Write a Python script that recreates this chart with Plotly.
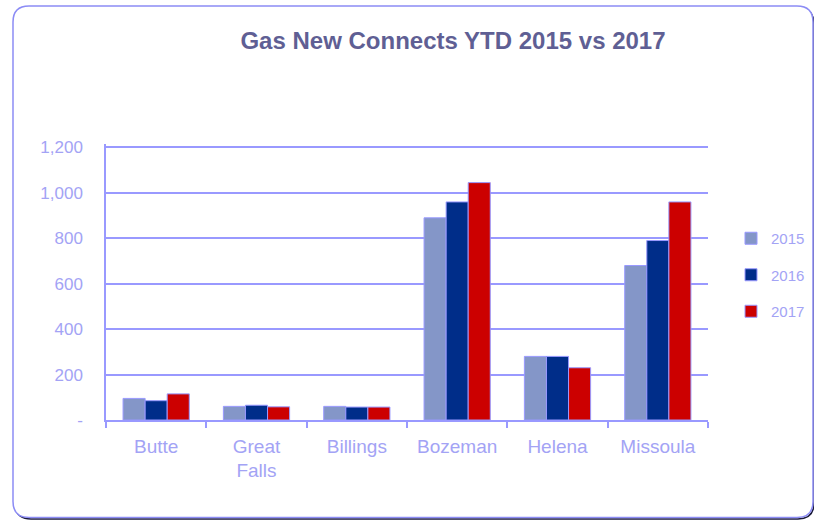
import plotly.graph_objects as go

categories = ["Butte", "Great<br>Falls", "Billings", "Bozeman", "Helena", "Missoula"]
series_names = ["2015", "2016", "2017"]
values_2015 = [95, 60, 60, 890, 280, 680]
values_2016 = [85, 65, 57, 960, 280, 790]
values_2017 = [115, 58, 57, 1045, 230, 960]
y_tick_vals = [0, 200, 400, 600, 800, 1000, 1200]
y_tick_text = ["-", "200", "400", "600", "800", "1,000", "1,200"]

colors = ["#8496C8", "#002D89", "#CC0000"]
edge = "#9999FF"
label_col = "#A3A3F5"
FONT = "Liberation Sans, Arial, sans-serif"

W, H = 814, 520
L, R, T, B = 106, 106, 144, 100
pw, ph = W - L - R, H - T - B

fig = go.Figure()
for name, vals, c in zip(series_names, [values_2015, values_2016, values_2017], colors):
    fig.add_trace(go.Bar(
        x=categories, y=vals, name=name, legendgroup=name,
        marker=dict(color=c, line=dict(color=edge, width=1)),
    ))

def P(px, py):
    a, b = (px - L) / pw, (H - B - py) / ph
    return f"{a:.5f},{b:.5f}"

def rounded(x0, y0, x1, y1, r):
    return (f"M {P(x0+r, y0)} L {P(x1-r, y0)} Q {P(x1, y0)} {P(x1, y0+r)} "
            f"L {P(x1, y1-r)} Q {P(x1, y1)} {P(x1-r, y1)} L {P(x0+r, y1)} "
            f"Q {P(x0, y1)} {P(x0, y1-r)} L {P(x0, y0+r)} Q {P(x0, y0)} {P(x0+r, y0)} Z")

# shadow + rounded border
fig.add_shape(type="path", xref="paper", yref="paper",
              path=rounded(15, 8, 814, 519, 16),
              line=dict(color="#1A1A3A", width=1.5), layer="below")
fig.add_shape(type="path", xref="paper", yref="paper",
              path=rounded(13, 6, 813, 517.5, 16), fillcolor="white",
              line=dict(color="#8C8CF5", width=1.5), layer="below")

fig.update_layout(
    width=W, height=H,
    margin=dict(l=L, r=R, t=T, b=B, autoexpand=False),
    paper_bgcolor="white", plot_bgcolor="rgba(0,0,0,0)",
    font=dict(family=FONT, color=label_col, size=16),
    title=dict(text="<b>Gas New Connects YTD 2015 vs 2017</b>",
               font=dict(family=FONT, size=24, color="#5F5F94"),
               x=453 / W, xanchor="center", xref="container",
               y=1 - 41 / H, yanchor="middle", yref="container"),
    barmode="group", bargap=0.34, bargroupgap=0,
    showlegend=True,
    legend=dict(x=731 / W, xref="container", xanchor="left",
                y=1 - 275 / H, yref="container", yanchor="middle",
                font=dict(size=15, color=label_col, family=FONT),
                traceorder="grouped", tracegroupgap=14,
                itemwidth=30, bgcolor="rgba(0,0,0,0)"),
)
fig.update_xaxes(showline=True, linecolor=edge, linewidth=1.5,
                 ticks="outside", tickson="boundaries", ticklen=6,
                 tickcolor=edge, tickwidth=1.5, ticklabelstandoff=8,
                 tickfont=dict(size=19, color=label_col), showgrid=False)
fig.update_yaxes(range=[0, 1215], tickvals=y_tick_vals, ticktext=y_tick_text,
                 showgrid=True, gridcolor=edge, gridwidth=1.5,
                 showline=True, linecolor=edge, linewidth=1.5,
                 ticks="", ticklabelstandoff=18,
                 tickfont=dict(size=17, color=label_col), zeroline=False)

fig.write_html("out.html", config={"displayModeBar": False},
               post_script="document.body.style.margin='0';")
